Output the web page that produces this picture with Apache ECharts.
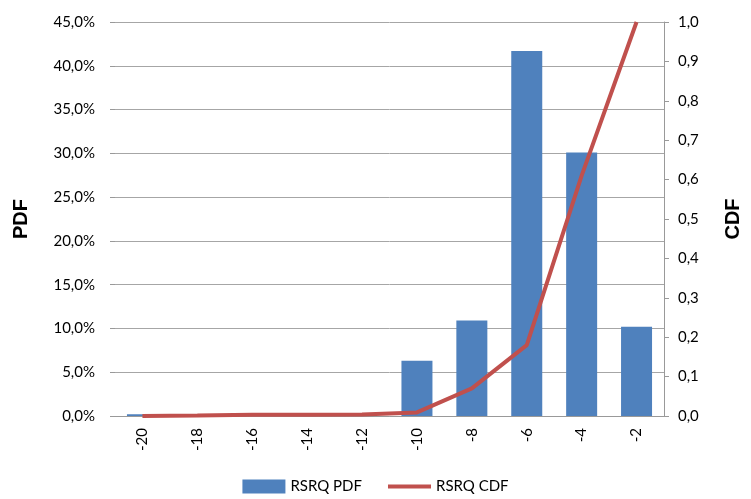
<!DOCTYPE html>
<html>
<head>
<meta charset="utf-8">
<script src="https://cdn.jsdelivr.net/npm/echarts@6/dist/echarts.min.js"></script>
<style>html,body{margin:0;padding:0;background:#fff;}#chart{width:751px;height:499px;}</style>
</head>
<body>
<div id="chart"></div>
<script>
const categories = ['-20','-18','-16','-14','-12','-10','-8','-6','-4','-2'];
const pdfValues = [0.2, 0, 0, 0, 0, 6.3, 10.9, 41.7, 30.1, 10.2];
const cdfValues = [0.0, 0.001, 0.003, 0.003, 0.004, 0.009, 0.07, 0.18, 0.61, 1.0];
const pdfTicks = { min: 0, max: 45, interval: 5 };
const cdfTicks = { min: 0, max: 1, interval: 0.1 };

const FONT = 'Lato';
const chart = echarts.init(document.getElementById('chart'), null, { renderer: 'canvas' });
chart.setOption({
  animation: false,
  backgroundColor: '#fff',
  textStyle: { fontFamily: FONT },
  grid: { left: 115, right: 80, top: 22, bottom: 83, containLabel: false },
  legend: {
    bottom: 0, left: 'center',
    itemWidth: 43, itemHeight: 14, itemGap: 26,
    textStyle: { fontFamily: FONT, fontSize: 15, color: '#000' },
    data: [
      { name: 'RSRQ PDF', icon: 'rect' },
      { name: 'RSRQ CDF', icon: 'path://M0,0 M43,14 M0,5 L43,5 L43,9 L0,9 Z',
        itemStyle: { color: '#C0504D' } }
    ]
  },
  xAxis: {
    type: 'category', data: categories, boundaryGap: true,
    axisLine: { show: true, lineStyle: { color: '#999', width: 1 } },
    axisTick: { show: false },
    axisLabel: { rotate: 90, fontFamily: FONT, fontSize: 15, color: '#000', margin: 12 },
    splitLine: { show: false }
  },
  yAxis: [
    {
      type: 'value', min: pdfTicks.min, max: pdfTicks.max, interval: pdfTicks.interval,
      name: 'PDF', nameLocation: 'middle', nameGap: 84, nameRotate: 90,
      nameTextStyle: { fontFamily: 'Liberation Sans', fontWeight: 'bold', fontSize: 20, color: '#000' },
      axisLine: { show: false },
      axisTick: { show: true, inside: false, length: 5, lineStyle: { color: '#999' } },
      axisLabel: { fontFamily: FONT, fontSize: 15, color: '#000', margin: 20,
        formatter: v => v.toFixed(1).replace('.', ',') + '%' },
      splitLine: { show: true, lineStyle: { color: '#A6A6A6', width: 1 } }
    },
    {
      type: 'value', min: cdfTicks.min, max: cdfTicks.max, interval: cdfTicks.interval,
      name: 'CDF', nameLocation: 'middle', nameGap: 59, nameRotate: 90,
      nameTextStyle: { fontFamily: 'Liberation Sans', fontWeight: 'bold', fontSize: 20, color: '#000' },
      axisLine: { show: true, lineStyle: { color: '#999', width: 1 } },
      axisTick: { show: true, inside: false, length: 5, lineStyle: { color: '#999' } },
      axisLabel: { fontFamily: FONT, fontSize: 15, color: '#000', margin: 14,
        formatter: v => v.toFixed(1).replace('.', ',') },
      splitLine: { show: false }
    }
  ],
  series: [
    {
      name: 'RSRQ PDF', type: 'bar', data: pdfValues, yAxisIndex: 0,
      barWidth: 31,
      itemStyle: { color: '#4F81BD' }
    },
    {
      name: 'RSRQ CDF', type: 'line', data: cdfValues, yAxisIndex: 1,
      symbol: 'none', smooth: false,
      lineStyle: { color: '#C0504D', width: 4 },
      itemStyle: { color: '#C0504D' }
    }
  ]
});
</script>
</body>
</html>
